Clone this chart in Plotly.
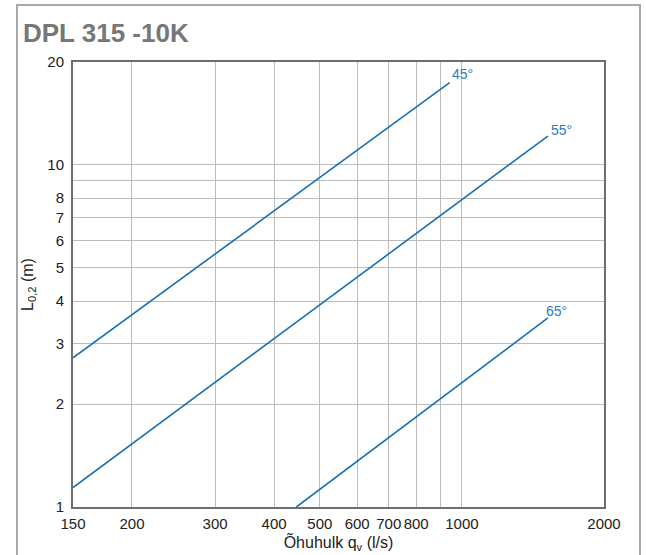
import plotly.graph_objects as go
import math

# Data (airflow q_v in l/s, throw length L0,2 in m)
q_45 = [150, 942]
L_45 = [2.73, 17.4]
q_55 = [150, 1521]
L_55 = [1.14, 12.15]
q_65 = [446, 1521]
L_65 = [1.0, 3.57]

series_names = ["45°", "55°", "65°"]

x_tickvals = [150, 200, 300, 400, 500, 600, 700, 800, 900, 1000, 2000]
x_ticktext = ["150", "200", "300", "400", "500", "600", "700", "800", "", "1000", "2000"]
y_tickvals = [1, 2, 3, 4, 5, 6, 7, 8, 9, 10, 20]
y_ticktext = ["1", "2", "3", "4", "5", "6", "7", "8", "", "10", "20"]

line_color = "#1a6fb6"
label_color = "#2b7cc4"

fig = go.Figure()
for name, q, L in zip(series_names, [q_45, q_55, q_65], [L_45, L_55, L_65]):
    fig.add_trace(go.Scatter(x=q, y=L, mode="lines", name=name,
                             line=dict(color=line_color, width=1.6),
                             showlegend=False, hoverinfo="skip"))

# series labels
label_pos = [(1003, 18.45), (1622, 12.66), (1590, 3.74)]
for name, (lx, ly) in zip(series_names, label_pos):
    fig.add_annotation(x=math.log10(lx), y=math.log10(ly), text=name, showarrow=False,
                       xref="x", yref="y", font=dict(family="Liberation Sans, Arial", size=14, color=label_color))

# title
fig.add_annotation(x=-0.097, y=1.065, xref="paper", yref="paper", xanchor="left", yanchor="middle",
                   text="<b>DPL 315 -10K</b>", showarrow=False,
                   font=dict(family="Liberation Sans, Arial", size=26, color="#777777"))

# outer frame
fig.add_shape(type="rect", xref="paper", yref="paper", x0=-0.1055, x1=1.0678, y0=-0.2, y1=1.128,
              line=dict(color="#a8a8a8", width=2), layer="below")

axis_font = dict(family="Liberation Sans, Arial", size=15, color="#222222")

fig.update_xaxes(type="log", range=[math.log10(150), math.log10(2000)],
                 tickvals=x_tickvals, ticktext=x_ticktext, ticks="",
                 showgrid=True, gridcolor="#bdbdbd", gridwidth=1,
                 showline=True, linecolor="#6e6e6e", linewidth=2, mirror=True,
                 tickfont=axis_font, ticklabelstandoff=2,
                 title=dict(text="Õhuhulk q<sub>v</sub> (l/s)", font=dict(family="Liberation Sans, Arial", size=16, color="#222222"), standoff=0),
                 zeroline=False)
fig.update_yaxes(type="log", range=[0, math.log10(20)],
                 tickvals=y_tickvals, ticktext=y_ticktext, ticks="",
                 showgrid=True, gridcolor="#bdbdbd", gridwidth=1,
                 showline=True, linecolor="#6e6e6e", linewidth=2, mirror=True,
                 tickfont=axis_font, ticklabelstandoff=4,
                 title=dict(text="L<sub>0,2</sub> (m)", font=dict(family="Liberation Sans, Arial", size=16, color="#222222"), standoff=10),
                 zeroline=False)

fig.update_layout(width=646, height=555,
                  margin=dict(l=73, r=42, t=62, b=48, autoexpand=False),
                  paper_bgcolor="white", plot_bgcolor="white")

fig.write_html("out.html", config={"displayModeBar": False},
               post_script="document.body.style.margin='0';document.body.style.overflow='hidden';")
